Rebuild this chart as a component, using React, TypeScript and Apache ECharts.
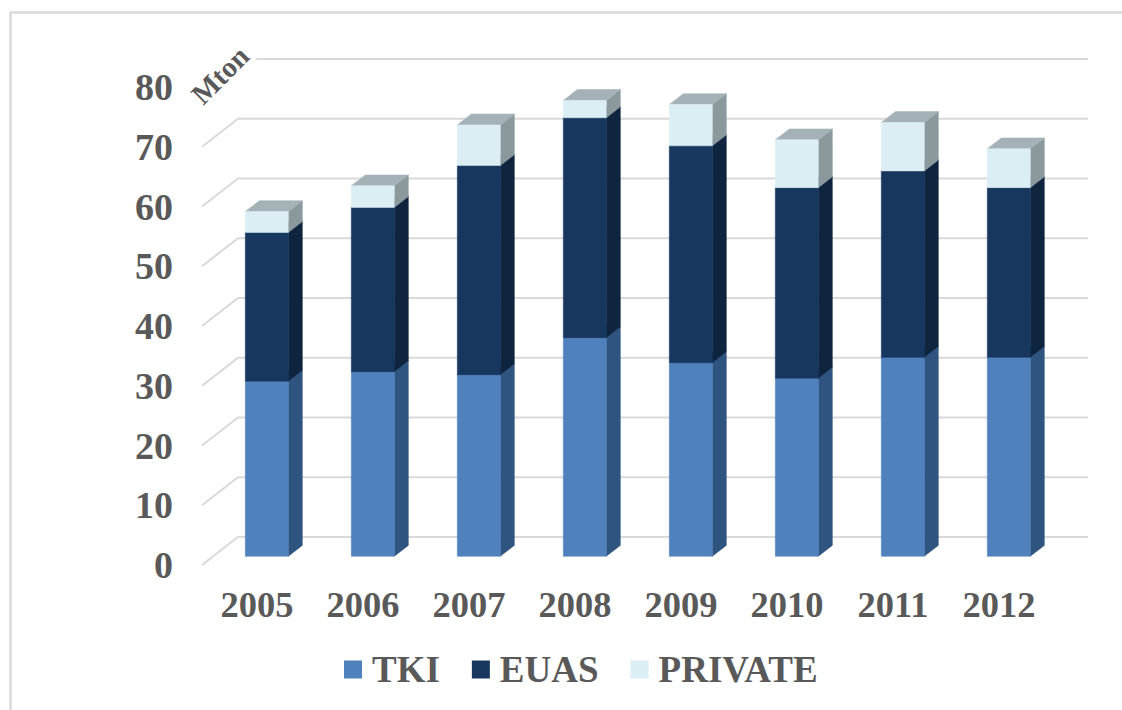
import React, { useEffect, useRef } from "react";
import * as echarts from "echarts";

const years = ["2005", "2006", "2007", "2008", "2009", "2010", "2011", "2012"];
const tki = [29.3, 30.9, 30.4, 36.6, 32.4, 29.8, 33.3, 33.3];
const euas = [24.9, 27.5, 35.0, 36.8, 36.3, 31.9, 31.2, 28.4];
const privateGen = [3.5, 3.6, 6.8, 2.9, 6.9, 8.0, 8.1, 6.5];
const ticks = [0, 10, 20, 30, 40, 50, 60, 70, 80];

const FONT = '"Liberation Serif", "Times New Roman", serif';
const TEXT = "#595959";
const GRID = "#d9d9d9";
const FRAME = "#dedede";

// Oblique projection of the 3D plot
const FLOOR_DX = 36;
const FLOOR_DY = -28;
const BAR_FRONT = 0.3;
const BAR_BACK = 0.69;
const BAR_WIDTH = 43;

function stack(values: number[], below: number[][]) {
  return values.map((v, i) => {
    const start = below.reduce((s, arr) => s + arr[i], 0);
    return [i, start, start + v];
  });
}

function cuboid(front: string, side: string, top: string) {
  return (params: any, api: any) => {
    const i = api.value(0);
    const a = api.coord([i, api.value(1)]);
    const b = api.coord([i, api.value(2)]);
    const fx = FLOOR_DX * BAR_FRONT;
    const fy = FLOOR_DY * 0.31;
    const bx = FLOOR_DX * BAR_BACK;
    const by = FLOOR_DY * 0.7;
    const x0 = a[0] - BAR_WIDTH / 2;
    const x1 = x0 + BAR_WIDTH;
    const yb = a[1];
    const yt = b[1];
    const poly = (points: number[][], fill: string) => ({
      type: "polygon",
      shape: { points },
      style: { fill, stroke: fill, lineWidth: 0.5 },
    });
    return {
      type: "group",
      children: [
        poly(
          [
            [x1 + fx, yb + fy],
            [x1 + bx, yb + by],
            [x1 + bx, yt + by],
            [x1 + fx, yt + fy],
          ],
          side
        ),
        poly(
          [
            [x0 + fx, yt + fy],
            [x1 + fx, yt + fy],
            [x1 + bx, yt + by],
            [x0 + bx, yt + by],
          ],
          top
        ),
        poly(
          [
            [x0 + fx, yb + fy],
            [x1 + fx, yb + fy],
            [x1 + fx, yt + fy],
            [x0 + fx, yt + fy],
          ],
          front
        ),
      ],
    };
  };
}

function gridRender(params: any, api: any) {
  const v = api.value(0);
  const rect = params.coordSys;
  const y = api.coord([0, v])[1];
  const x0 = rect.x - 1;
  const x1 = rect.x + rect.width + 1;
  return {
    type: "polyline",
    shape: {
      points: [
        [x0, y],
        [x0 + FLOOR_DX, y + FLOOR_DY],
        [x1 + FLOOR_DX, y + FLOOR_DY],
      ],
    },
    style: { fill: "none", stroke: GRID, lineWidth: 2 },
  };
}

export default function App() {
  const ref = useRef<HTMLDivElement>(null);
  useEffect(() => {
    const chart = echarts.init(ref.current!, undefined, { renderer: "svg" });
    const common = { type: "custom", coordinateSystem: "cartesian2d", encode: { x: 0, y: [1, 2] }, clip: false };
    chart.setOption({
      animation: false,
      backgroundColor: "#ffffff",
      textStyle: { fontFamily: FONT },
      grid: { left: 203, top: 87, width: 848, height: 478 },
      xAxis: {
        type: "category",
        data: years,
        axisLine: { show: false },
        axisTick: { show: false },
        splitLine: { show: false },
        axisLabel: { margin: 21, color: TEXT, fontSize: 36.5, fontWeight: "bold", fontFamily: FONT, padding: [0, 0, 0, 2] },
      },
      yAxis: {
        type: "value",
        min: 0,
        max: 80,
        interval: 10,
        axisLine: { show: false },
        axisTick: { show: false },
        splitLine: { show: false },
        axisLabel: { margin: 30, color: TEXT, fontSize: 38, fontWeight: "bold", fontFamily: FONT, padding: [0, 0, 5, 0] },
      },
      legend: {
        left: 344,
        top: 651,
        padding: 0,
        itemWidth: 18,
        itemHeight: 18,
        itemGap: 32,
        icon: "rect",
        textStyle: { color: TEXT, fontSize: 37, fontWeight: "bold", fontFamily: FONT, padding: [0, 0, 0, 5] },
        data: [
          { name: "TKI", itemStyle: { color: "#4f81bd" } },
          { name: "EUAS", itemStyle: { color: "#17375e" } },
          { name: "PRIVATE", itemStyle: { color: "#dbeef4" } },
        ],
      },
      graphic: [
        { type: "line", silent: true, z: 10, shape: { x1: 10.5, y1: 12, x2: 10.5, y2: 710 }, style: { stroke: FRAME, lineWidth: 3 } },
        { type: "line", silent: true, z: 10, shape: { x1: 10, y1: 12.5, x2: 1122, y2: 12.5 }, style: { stroke: FRAME, lineWidth: 3 } },
        {
          type: "rect",
          silent: true,
          z: 20,
          x: 220,
          y: 75,
          rotation: Math.PI / 4,
          shape: { x: -42, y: -16, width: 84, height: 30 },
          style: { fill: "#ffffff" },
        },
        {
          type: "text",
          silent: true,
          z: 21,
          x: 220,
          y: 75,
          rotation: Math.PI / 4,
          style: {
            text: "Mton",
            fill: TEXT,
            font: `bold 29px ${FONT}`,
            align: "center",
            verticalAlign: "middle",
          },
        },
      ],
      series: [
        {
          name: "grid",
          type: "custom",
          coordinateSystem: "cartesian2d",
          encode: { y: 0 },
          clip: false,
          silent: true,
          z: 1,
          data: ticks.map((t) => [t]),
          renderItem: gridRender,
        },
        { ...common, name: "TKI", z: 2, data: stack(tki, []), renderItem: cuboid("#4f81bd", "#2f5480", "#3f6aa0") },
        { ...common, name: "EUAS", z: 3, data: stack(euas, [tki]), renderItem: cuboid("#17375e", "#0f243f", "#122c4c") },
        { ...common, name: "PRIVATE", z: 4, data: stack(privateGen, [tki, euas]), renderItem: cuboid("#dbeef4", "#8b999d", "#a4b2b7") },
      ],
    });
    return () => chart.dispose();
  }, []);
  return <div ref={ref} style={{ position: "fixed", left: 0, top: 0, width: 1122, height: 710 }} />;
}
